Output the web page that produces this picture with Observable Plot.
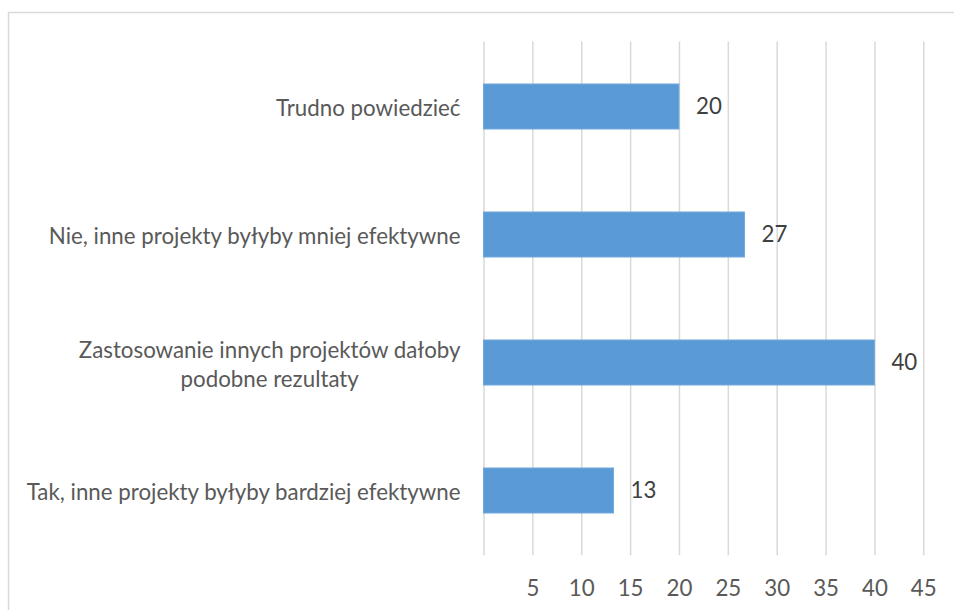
<!DOCTYPE html>
<html><head><meta charset="utf-8">
<script src="https://cdn.jsdelivr.net/npm/d3@7"></script>
<script src="https://cdn.jsdelivr.net/npm/@observablehq/plot@0.6"></script>
<style>html,body{margin:0;padding:0;background:#fff;overflow:hidden;} svg{display:block}</style>
</head><body><div id="chart"></div>
<script>
const categories = [
  "Trudno powiedzieć",
  "Nie, inne projekty byłyby mniej efektywne",
  "Zastosowanie innych projektów dałoby\npodobne rezultaty",
  "Tak, inne projekty byłyby bardziej efektywne"
];
const values = [20, 26.7, 40, 13.3];
const valueLabels = ["20", "27", "40", "13"];
const xTickValues = [5, 10, 15, 20, 25, 30, 35, 40, 45];
const gridValues = [0, 5, 10, 15, 20, 25, 30, 35, 40, 45];

const data = categories.map((c, i) => ({category: c, value: values[i], label: valueLabels[i]}));
const FS = 22.3;

const chart = Plot.plot({
  width: 954, height: 610,
  marginLeft: 483.5, marginRight: 30.7, marginTop: 41.6, marginBottom: 54.8,
  style: {fontFamily: "Lato, 'Open Sans', sans-serif", background: "#fff", overflow: "visible"},
  x: {domain: [0, 45], axis: null},
  y: {domain: categories, paddingInner: 0.647, paddingOuter: 0.3235, axis: null},
  marks: [
    Plot.frame({stroke: "#d9d9d9", strokeWidth: 1.5, insetLeft: -475.5, insetTop: -29.6, insetRight: -100, insetBottom: -100}),
    Plot.gridX(gridValues, {stroke: "#d9d9d9", strokeOpacity: 1, strokeWidth: 1.5}),
    Plot.barX(data, {x: "value", y: "category", fill: "#5b9bd5", stroke: "#72a9dc", strokeWidth: 1}),
    Plot.text(data, {x: "value", y: "category", text: "label", textAnchor: "start", dx: 16.5, fill: "#404040", fontSize: FS}),
    Plot.text(data, {y: "category", text: "category", frameAnchor: "left", textAnchor: "end", dx: -23.5, fill: "#595959", fontSize: FS, lineHeight: 1.3, className: "catlab"}),
    Plot.axisX(xTickValues, {tickSize: 0, tickPadding: 24, fontSize: FS, fill: "#595959", label: null})
  ]
});
document.getElementById("chart").appendChild(chart);

// Center lines of multi-line category labels (longest line stays right-aligned)
chart.querySelectorAll(".catlab text").forEach(t => {
  const spans = t.querySelectorAll("tspan");
  if (spans.length > 1) {
    let w = 0;
    spans.forEach(s => { w = Math.max(w, s.getComputedTextLength()); });
    t.setAttribute("text-anchor", "middle");
    spans.forEach(s => s.setAttribute("x", -w / 2));
  }
});
</script>
</body></html>
